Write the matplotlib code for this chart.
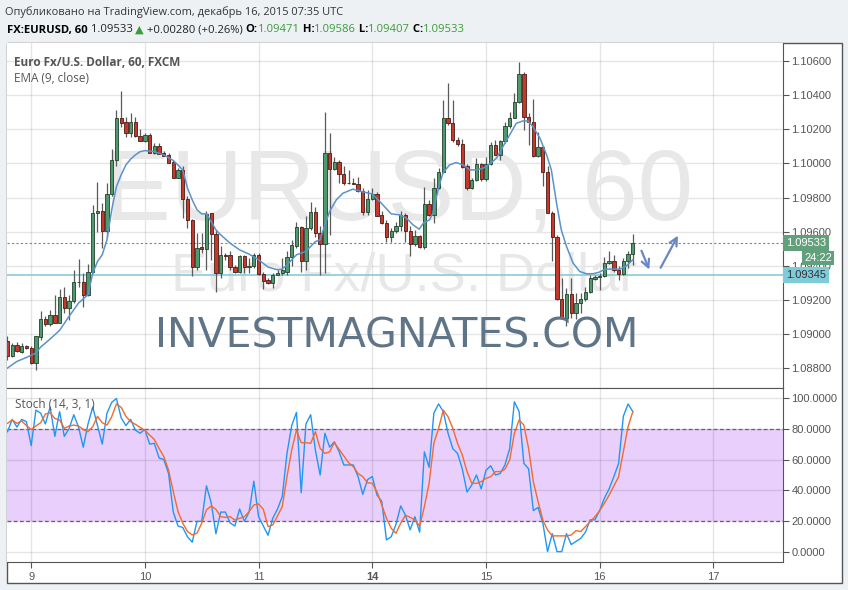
import numpy as np
import matplotlib.pyplot as plt
from matplotlib.patches import Rectangle
from matplotlib.ticker import FormatStrFormatter

plt.rcParams['font.family'] = ['Open Sans', 'DejaVu Sans']

# hourly bars, index 0 = Dec 9 00:00 UTC
bar_idx = np.arange(-5, 128)
opens = np.array([
    1.08956, 1.08872, 1.08937, 1.08897, 1.08931,
    1.08917, 1.08829, 1.08981, 1.09087, 1.09057, 1.09110, 1.09067, 1.09215, 1.09151, 1.09196,
    1.09303, 1.09303, 1.09229, 1.09363, 1.09707, 1.09722, 1.09605, 1.09818, 1.10019, 1.10269,
    1.10241, 1.10179, 1.10241, 1.10163, 1.10134, 1.10169, 1.10060, 1.10103, 1.10060, 1.10052,
    1.10010, 1.09916, 1.09960, 1.09794, 1.09671, 1.09395, 1.09508, 1.09496, 1.09707, 1.09586,
    1.09356, 1.09461, 1.09461, 1.09391, 1.09366, 1.09457, 1.09391, 1.09399, 1.09463, 1.09350,
    1.09317, 1.09297, 1.09346, 1.09360, 1.09366, 1.09453, 1.09516, 1.09629, 1.09428, 1.09623,
    1.09716, 1.09590, 1.09526, 1.10062, 1.09968, 1.10009, 1.09939, 1.09888, 1.09884, 1.09882,
    1.09839, 1.09716, 1.09794, 1.09818, 1.09695, 1.09651, 1.09569, 1.09603, 1.09635, 1.09695,
    1.09605, 1.09525, 1.09574, 1.09512, 1.09760, 1.09697, 1.09853, 1.09951, 1.10269, 1.10234,
    1.10140, 1.10111, 1.09984, 1.09853, 1.09902, 1.09994, 1.09906, 1.09994, 1.10105, 1.10052,
    1.10130, 1.10218, 1.10269, 1.10361, 1.10523, 1.10273, 1.10244, 1.10046, 1.10095, 1.09947,
    1.09709, 1.09569, 1.09206, 1.09095, 1.09236, 1.09125, 1.09180, 1.09204, 1.09245, 1.09320,
    1.09334, 1.09338, 1.09416, 1.09426, 1.09377, 1.09352, 1.09430, 1.09471])
highs = np.array([
    1.08989, 1.08946, 1.08950, 1.08946, 1.08937,
    1.08927, 1.08989, 1.09132, 1.09107, 1.09142, 1.09230, 1.09263, 1.09278, 1.09230, 1.09372,
    1.09439, 1.09357, 1.09411, 1.09757, 1.09890, 1.09767, 1.09884, 1.10085, 1.10314, 1.10425,
    1.10275, 1.10294, 1.10271, 1.10202, 1.10181, 1.10177, 1.10118, 1.10118, 1.10075, 1.10060,
    1.10021, 1.09972, 1.09985, 1.09806, 1.09675, 1.09591, 1.09591, 1.09718, 1.09710, 1.09610,
    1.09513, 1.09474, 1.09484, 1.09406, 1.09464, 1.09464, 1.09444, 1.09474, 1.09474, 1.09366,
    1.09327, 1.09357, 1.09372, 1.09444, 1.09484, 1.09552, 1.09659, 1.09630, 1.09689, 1.09771,
    1.09747, 1.09630, 1.10304, 1.10177, 1.10040, 1.10021, 1.09982, 1.09962, 1.09913, 1.09923,
    1.09855, 1.09845, 1.09855, 1.09835, 1.09718, 1.09669, 1.09620, 1.09659, 1.09718, 1.09708,
    1.09630, 1.09610, 1.09581, 1.09864, 1.09786, 1.09913, 1.09972, 1.10372, 1.10474, 1.10372,
    1.10153, 1.10142, 1.09997, 1.09913, 1.10030, 1.10001, 1.10040, 1.10128, 1.10138, 1.10138,
    1.10245, 1.10304, 1.10411, 1.10597, 1.10538, 1.10298, 1.10376, 1.10187, 1.10103, 1.09982,
    1.09718, 1.09581, 1.09327, 1.09269, 1.09327, 1.09239, 1.09239, 1.09278, 1.09347, 1.09347,
    1.09357, 1.09454, 1.09484, 1.09464, 1.09396, 1.09444, 1.09484, 1.09586])
lows = np.array([
    1.08849, 1.08864, 1.08892, 1.08888, 1.08911,
    1.08825, 1.08786, 1.08966, 1.09044, 1.09044, 1.09064, 1.09064, 1.09122, 1.09083, 1.09181,
    1.09278, 1.09157, 1.09220, 1.09357, 1.09595, 1.09503, 1.09571, 1.09806, 1.09982, 1.10216,
    1.10153, 1.10157, 1.10157, 1.10134, 1.10128, 1.10060, 1.10056, 1.10056, 1.10044, 1.10001,
    1.09913, 1.09913, 1.09679, 1.09620, 1.09337, 1.09376, 1.09474, 1.09376, 1.09435, 1.09243,
    1.09327, 1.09435, 1.09376, 1.09357, 1.09357, 1.09357, 1.09357, 1.09386, 1.09347, 1.09263,
    1.09294, 1.09269, 1.09345, 1.09347, 1.09347, 1.09396, 1.09503, 1.09366, 1.09376, 1.09610,
    1.09571, 1.09347, 1.09357, 1.09581, 1.09962, 1.09884, 1.09874, 1.09880, 1.09878, 1.09835,
    1.09698, 1.09698, 1.09786, 1.09689, 1.09646, 1.09542, 1.09542, 1.09591, 1.09601, 1.09542,
    1.09458, 1.09513, 1.09503, 1.09497, 1.09689, 1.09650, 1.09849, 1.09946, 1.10226, 1.10128,
    1.10103, 1.09972, 1.09845, 1.09849, 1.09899, 1.09899, 1.09899, 1.09991, 1.10050, 1.10021,
    1.10118, 1.10206, 1.10265, 1.10357, 1.10196, 1.10108, 1.10040, 1.10040, 1.09868, 1.09708,
    1.09425, 1.09200, 1.09087, 1.09044, 1.09093, 1.09087, 1.09122, 1.09196, 1.09239, 1.09314,
    1.09259, 1.09333, 1.09411, 1.09366, 1.09318, 1.09345, 1.09386, 1.09407])
closes = np.array([
    1.08872, 1.08937, 1.08901, 1.08931, 1.08915,
    1.08829, 1.08985, 1.09087, 1.09057, 1.09110, 1.09067, 1.09215, 1.09151, 1.09196, 1.09303,
    1.09305, 1.09229, 1.09363, 1.09707, 1.09722, 1.09605, 1.09818, 1.10019, 1.10269, 1.10238,
    1.10179, 1.10241, 1.10161, 1.10134, 1.10169, 1.10060, 1.10103, 1.10056, 1.10046, 1.10001,
    1.09916, 1.09960, 1.09794, 1.09671, 1.09395, 1.09506, 1.09496, 1.09703, 1.09586, 1.09356,
    1.09461, 1.09459, 1.09391, 1.09366, 1.09457, 1.09391, 1.09399, 1.09460, 1.09350, 1.09313,
    1.09297, 1.09346, 1.09360, 1.09375, 1.09453, 1.09520, 1.09629, 1.09428, 1.09623, 1.09716,
    1.09590, 1.09526, 1.10062, 1.09968, 1.10009, 1.09935, 1.09888, 1.09884, 1.09880, 1.09839,
    1.09716, 1.09794, 1.09818, 1.09692, 1.09651, 1.09569, 1.09603, 1.09635, 1.09695, 1.09605,
    1.09525, 1.09574, 1.09512, 1.09760, 1.09697, 1.09853, 1.09951, 1.10269, 1.10234, 1.10137,
    1.10111, 1.09979, 1.09853, 1.09902, 1.09994, 1.09906, 1.09994, 1.10105, 1.10052, 1.10130,
    1.10218, 1.10269, 1.10361, 1.10523, 1.10273, 1.10244, 1.10046, 1.10095, 1.09947, 1.09709,
    1.09569, 1.09206, 1.09095, 1.09236, 1.09125, 1.09180, 1.09204, 1.09245, 1.09327, 1.09334,
    1.09342, 1.09416, 1.09430, 1.09373, 1.09352, 1.09430, 1.09471, 1.09533])

# EMA (9, close)
ema_idx = [-5, -3, -1, 1, 2, 4, 6, 8, 10, 12, 13, 14, 15, 16, 17, 18, 19, 20, 21, 22, 23, 24,
           26, 28, 30, 32, 33, 34, 35, 36, 37, 38, 39, 40, 42, 44, 46, 48, 50, 52, 53, 54, 55,
           56, 58, 59, 60, 61, 62, 63, 64.4, 65.8, 67.9, 69.7, 72, 73.9, 76, 77.8, 79.2, 80.6,
           81.9, 82.8, 84.1, 84.8, 85.9, 86.9, 88.3, 89.7, 91.2, 92.6, 94, 95.4, 96.8, 98.2,
           99.6, 101, 102.4, 103.8, 104.9, 105.9, 107.4, 108.8, 109.8, 110.9, 111.9, 113,
           114.4, 115.8, 117.2, 118.6, 119.9, 121.1, 122.8, 124.3, 125.7, 127]
ema_val = [1.08800, 1.08839, 1.08862, 1.08888, 1.08923, 1.08970, 1.09021, 1.09103, 1.09181,
           1.09230, 1.09357, 1.09425, 1.09464, 1.09552, 1.09728, 1.09864, 1.09933, 1.09991,
           1.10025, 1.10050, 1.10069, 1.10075, 1.10069, 1.10050, 1.10017, 1.09962, 1.09855,
           1.09786, 1.09728, 1.09704, 1.09704, 1.09659, 1.09610, 1.09581, 1.09532, 1.09493,
           1.09468, 1.09435, 1.09392, 1.09376, 1.09380, 1.09405, 1.09435, 1.09464, 1.09484,
           1.09513, 1.09542, 1.09552, 1.09640, 1.09718, 1.09786, 1.09825, 1.09849, 1.09835,
           1.09821, 1.09767, 1.09704, 1.09698, 1.09679, 1.09640, 1.09614, 1.09650, 1.09669,
           1.09708, 1.09845, 1.09943, 1.09991, 1.10005, 1.09991, 1.09962, 1.09962, 1.09972,
           1.09997, 1.10030, 1.10099, 1.10167, 1.10235, 1.10249, 1.10249, 1.10216, 1.10148,
           1.10050, 1.09962, 1.09767, 1.09610, 1.09513, 1.09415, 1.09366, 1.09353, 1.09353,
           1.09362, 1.09380, 1.09380, 1.09380, 1.09400, 1.09435]

# Stoch (14, 3, 1): %K blue, %D orange
stoch_k = [78, 86, 81, 86, 84.5,
           69, 92, 90, 83, 94, 75, 91, 75, 80, 89,
           81, 68, 83, 94, 82, 70, 90, 97, 99.5, 87,
           82, 86, 79, 77, 79.5, 70, 70.5, 61, 60, 51,
           26, 17, 16, 10, 6.5, 20, 20, 43, 32, 12,
           26, 26, 19, 17, 28, 20, 26, 46, 23, 17,
           11, 22, 28, 36, 64, 82, 90.5, 38.5, 83, 89,
           66, 50, 77, 68, 71.5, 65, 56.5, 56.5, 56.5, 49,
           37.5, 47, 49, 37, 33, 8, 10, 18, 30, 24,
           14.5, 23, 13, 65, 55, 90, 96, 91, 77, 67,
           64, 54, 39, 43.5, 50, 41, 53, 56, 50, 51,
           56.5, 67, 97.4, 91, 57.5, 54, 27, 29, 19, 0.4,
           12, 0.4, 0.4, 12, 5, 7, 9, 13, 21, 21,
           27, 35, 41, 49, 57.5, 88, 96, 91]
stoch_d = [83.4, 85.6, 83.4, 85, 82,
           79.5, 81.7, 83.8, 89.4, 90.3, 86.6, 85.6, 80.2, 81.7, 82.3,
           81.7, 79.5, 78, 81.3, 88, 83.8, 82.3, 87.7, 96, 93.8,
           88, 84.5, 82.8, 80.8, 79, 75.9, 73, 67.2, 61.9, 53.2,
           39.2, 26.3, 18.8, 13.4, 11.2, 12.3, 18.8, 27.4, 30, 27.8,
           23, 22.6, 23, 20.9, 22, 23, 26.3, 30.6, 31.3, 27.8,
           16.6, 17.7, 23.5, 29.5, 48.9, 66.2, 79, 70.9, 70.9, 70.5,
           78, 67.2, 64, 65, 70.9, 66.6, 62.3, 58, 55.4, 51,
           48.9, 45, 44.6, 39.2, 30.6, 22, 15.5, 12.3, 18.8, 24,
           22.6, 20.9, 17, 29.5, 44.6, 70.5, 80.2, 92, 87.7, 80.2,
           70.5, 63, 52.2, 44.6, 44.6, 45.7, 47.8, 48.9, 52.2, 52.2,
           53.7, 59.7, 77, 85.6, 82.3, 67.2, 45.7, 32.8, 20.9, 14.4,
           10.6, 10.6, 10.6, 10.6, 11.2, 14, 13.4, 16.6, 19.8, 23,
           26.9, 31.7, 37, 42.9, 48.9, 65, 81.3, 91]

day_pos = [0, 24, 48, 72, 96, 120, 144]
day_labels = ['9', '10', '11', '14', '15', '16', '17']
price_ticks = [1.088, 1.090, 1.092, 1.094, 1.096, 1.098, 1.100, 1.102, 1.104, 1.106]
stoch_ticks = [0, 20, 40, 60, 80, 100]
last_close = 1.09533
hline_level = 1.09345
arrow_down = [(128.6, 1.09503), (130.7, 1.09362)]
arrow_up = [(132.6, 1.09374), (136.8, 1.09591)]

W, H = 848, 590
GREY = '#555555'
fig = plt.figure(figsize=(W / 100, H / 100), dpi=100, facecolor='#eef1f4')

# white chart frame
fig.add_artist(Rectangle((7 / W, 1 - 583 / H), 835 / W, 540 / H, transform=fig.transFigure,
                         facecolor='white', edgecolor=GREY, lw=1, zorder=-1))

ax1 = fig.add_axes([7 / W, 1 - 388 / H, 776 / W, 345 / H])
ax2 = fig.add_axes([7 / W, 1 - 562 / H, 776 / W, 174 / H], sharex=ax1)

for ax in (ax1, ax2):
    ax.set_facecolor('white')
    ax.spines['left'].set_visible(False)
    for s in ('right', 'bottom', 'top'):
        ax.spines[s].set_color(GREY)
    ax.yaxis.tick_right()
    ax.set_xticks(day_pos)
    ax.grid(True, color='black', alpha=0.1, lw=1)
    ax.set_axisbelow(True)
    ax.tick_params(axis='y', length=4, width=0.8, color=GREY, labelcolor=GREY, labelsize=8, pad=2)
ax1.spines['top'].set_visible(False)

# ---- price pane
ax1.set_xlim(-5.1, 158.7)
ax1.set_ylim(1.08683, 1.10706)
ax1.set_yticks(price_ticks)
ax1.yaxis.set_major_formatter(FormatStrFormatter('%.5f'))
for lab in ax1.get_yticklabels():
    lab.set_family('Liberation Sans')
ax1.tick_params(axis='x', length=0, labelbottom=False)

ax1.text(0.504, 0.487, 'EURUSD, 60', transform=ax1.transAxes, ha='center', va='baseline',
         fontsize=72, color='#e8e8e8', family='Liberation Sans', zorder=1)
ax1.text(0.512, 0.284, 'Euro Fx/U.S. Dollar', transform=ax1.transAxes, ha='center',
         va='baseline', fontsize=39, color='#e8e8e8', family='Liberation Sans', zorder=1)

up = closes >= opens
body_lo = np.minimum(opens, closes)
body_h = np.maximum(np.abs(closes - opens), 0.00002)
ax1.vlines(bar_idx, lows, highs, color='#5a5a5a', lw=0.9, zorder=3)
ax1.bar(bar_idx[up], body_h[up], bottom=body_lo[up], width=0.7, color='#4f9a6c',
        edgecolor='#22402d', lw=0.6, zorder=4)
ax1.bar(bar_idx[~up], body_h[~up], bottom=body_lo[~up], width=0.7, color='#c4392c',
        edgecolor='#4a1a14', lw=0.6, zorder=4)
ax1.plot(ema_idx, ema_val, color='#5b93c9', lw=1.1, zorder=5)

ax1.axhline(last_close, color='#5d9a72', lw=0.8, ls=(0, (2, 2)), zorder=2)
ax1.axhline(hline_level, color='#7cc8d8', lw=1.1, zorder=2)

ax1.text(0.502, 0.116, 'INVESTMAGNATES.COM', transform=ax1.transAxes, ha='center',
         va='baseline', fontsize=29.5, color='#5f7587', family='DejaVu Sans', zorder=6)

for (x0, y0), (x1, y1) in (arrow_down, arrow_up):
    ax1.annotate('', xy=(x1, y1), xytext=(x0, y0),
                 arrowprops=dict(arrowstyle='->', color='#6b86c6', lw=1.6,
                                 mutation_scale=14), zorder=6)

ax1.annotate('1.09533', xy=(1, last_close), xycoords=('axes fraction', 'data'),
             xytext=(3, 0), textcoords='offset pixels', va='center', ha='left',
             fontsize=8, color='white', family='Liberation Sans', annotation_clip=False,
             bbox=dict(boxstyle='square,pad=0.3', fc='#62a07c', ec='none'), zorder=10)
ax1.annotate('24:22', xy=(1, last_close), xycoords=('axes fraction', 'data'),
             xytext=(49, -15), textcoords='offset pixels', va='center', ha='right',
             fontsize=8, color='white', family='Liberation Sans', annotation_clip=False,
             bbox=dict(boxstyle='square,pad=0.15', fc='#62a07c', ec='none'), zorder=10)
ax1.annotate('1.09345', xy=(1, hline_level), xycoords=('axes fraction', 'data'),
             xytext=(3, 0), textcoords='offset pixels', va='center', ha='left',
             fontsize=8, color='#333333', family='Liberation Sans', annotation_clip=False,
             bbox=dict(boxstyle='square,pad=0.3', fc='#7ecbd9', ec='none'), zorder=10)

ax1.text(7 / 776, 1 - 19 / 345, 'Euro Fx/U.S. Dollar, 60, FXCM', transform=ax1.transAxes,
         fontsize=8.5, fontweight='bold', color=GREY, va='center', zorder=7)
ax1.text(7 / 776, 1 - 35 / 345, 'EMA (9, close)', transform=ax1.transAxes,
         fontsize=8.5, color=GREY, va='center', zorder=7)

# ---- stochastic pane
ax2.set_ylim(-6.3, 106.3)
ax2.set_yticks(stoch_ticks)
ax2.yaxis.set_major_formatter(FormatStrFormatter('%.4f'))
for lab in ax2.get_yticklabels():
    lab.set_family('Liberation Sans')
ax2.axhspan(20, 80, color='#e9d0fc', lw=0, zorder=0.2)
for lvl in (20, 80):
    ax2.axhline(lvl, color='#6e5a78', lw=0.9, ls=(0, (3, 2)), zorder=1)
ax2.plot(bar_idx, stoch_k, color='#2196f3', lw=1, zorder=3)
ax2.plot(bar_idx, stoch_d, color='#f26a2e', lw=1, zorder=4)
ax2.text(8 / 776, 1 - 17 / 174, 'Stoch (14, 3, 1)', transform=ax2.transAxes,
         fontsize=8.5, color=GREY, va='center', zorder=7)

ax2.set_xticks(day_pos, day_labels)
ax2.tick_params(axis='x', length=4, width=0.8, color=GREY, labelcolor=GREY, labelsize=8, pad=3)
for lab in ax2.get_xticklabels():
    lab.set_family('Liberation Sans')
ax2.get_xticklabels()[3].set_fontweight('bold')

# ---- header
fig.text(5 / W, 1 - 12 / H, 'Опубликовано на TradingView.com, декабрь 16, 2015 07:35 UTC',
         fontsize=7.9, color='#333333', va='center')

GREEN = '#3a9c3a'
parts = [('FX:EURUSD, 60', 'black', 'bold'), (' 1.09533 ', '#222222', 'normal'),
         ('▲', GREEN, 'normal'), (' +0.00280 (+0.26%) ', '#222222', 'normal'),
         ('O:', 'black', 'bold'), ('1.09471', GREEN, 'normal'),
         (' H:', 'black', 'bold'), ('1.09586', GREEN, 'normal'),
         (' L:', 'black', 'bold'), ('1.09407', GREEN, 'normal'),
         (' C:', 'black', 'bold'), ('1.09533', GREEN, 'normal')]
renderer = fig.canvas.get_renderer()
x = 7
for s, c, w in parts:
    t = fig.text(x / W, 1 - 30 / H, s, fontsize=8.1, color=c, fontweight=w, va='center')
    x += t.get_window_extent(renderer).width

fig.savefig('out.png', dpi=100, facecolor=fig.get_facecolor())
